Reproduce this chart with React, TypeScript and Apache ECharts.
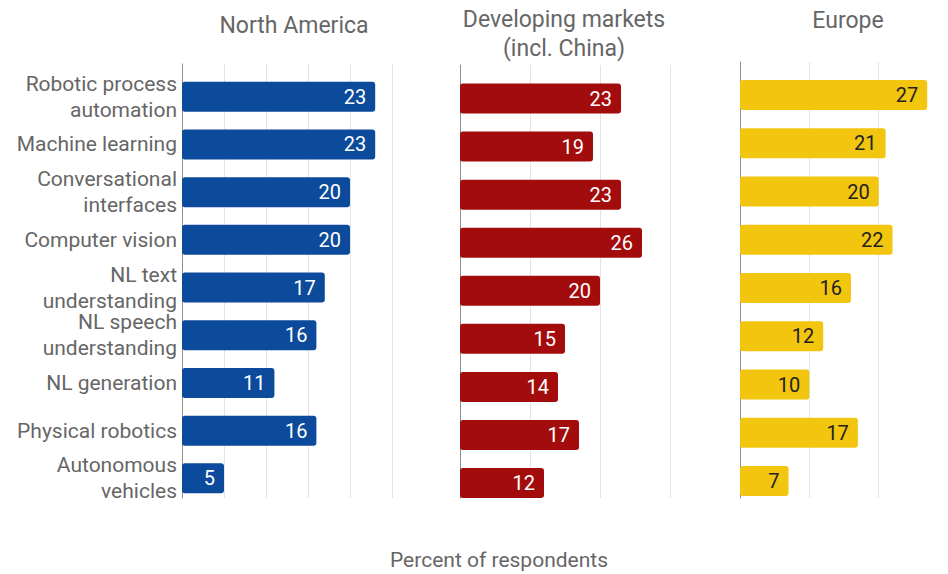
import React, { useEffect, useRef } from "react";
import * as echarts from "echarts";

const categories = [
  "Robotic process\nautomation",
  "Machine learning",
  "Conversational\ninterfaces",
  "Computer vision",
  "NL text\nunderstanding",
  "NL speech\nunderstanding",
  "NL generation",
  "Physical robotics",
  "Autonomous\nvehicles",
];
const northAmerica = [23, 23, 20, 20, 17, 16, 11, 16, 5];
const developingMarkets = [23, 19, 23, 26, 20, 15, 14, 17, 12];
const europe = [27, 21, 20, 22, 16, 12, 10, 17, 7];

const panelTitles = ["North America", "Developing markets\n(incl. China)", "Europe"];
const axisTitle = "Percent of respondents";

const FONT = "Roboto, 'Noto Sans', sans-serif";

export default function App() {
  const ref = useRef<HTMLDivElement>(null);

  useEffect(() => {
    if (!ref.current) return;
    const chart = echarts.init(ref.current, undefined, { renderer: "svg" });

    const panels = [
      {
        data: northAmerica,
        color: "#0C4A9B",
        labelColor: "#ffffff",
        max: 25,
        interval: 5,
        lines: { left: 182, top: 64, width: 210, height: 434 },
        bars: { left: 182, top: 72.9, width: 210, height: 429.3 },
        showCats: true,
      },
      {
        data: developingMarkets,
        color: "#A30C0C",
        labelColor: "#ffffff",
        max: 30,
        interval: 10,
        lines: { left: 460, top: 65, width: 210, height: 433 },
        bars: { left: 460, top: 74.5, width: 210, height: 432.6 },
        showCats: false,
      },
      {
        data: europe,
        color: "#F2C50F",
        labelColor: "#222222",
        max: 30,
        interval: 10,
        lines: { left: 740, top: 62, width: 211, height: 436 },
        bars: { left: 740, top: 70.9, width: 211, height: 434.3 },
        showCats: false,
      },
    ];

    const grid: any[] = [];
    const xAxis: any[] = [];
    const yAxis: any[] = [];
    const series: any[] = [];

    panels.forEach((p, i) => {
      const gl = grid.length;
      grid.push({ ...p.lines, containLabel: false });
      grid.push({ ...p.bars, containLabel: false });
      // lines grid
      xAxis.push({
        type: "value",
        gridIndex: gl,
        min: 0,
        max: p.max,
        interval: p.interval,
        axisLine: { show: false },
        axisTick: { show: false },
        axisLabel: { show: false },
        splitLine: { show: true, lineStyle: { color: "#e3e3e3", width: 1 } },
      });
      yAxis.push({
        type: "category",
        gridIndex: gl,
        inverse: true,
        data: categories,
        axisLine: { show: true, lineStyle: { color: "#8f8f8f", width: 1 } },
        axisTick: { show: false },
        axisLabel: { show: false },
        splitLine: { show: false },
      });
      // bars grid
      xAxis.push({
        type: "value",
        gridIndex: gl + 1,
        min: 0,
        max: p.max,
        interval: p.interval,
        axisLine: { show: false },
        axisTick: { show: false },
        axisLabel: { show: false },
        splitLine: { show: false },
      });
      yAxis.push({
        type: "category",
        gridIndex: gl + 1,
        inverse: true,
        data: categories,
        axisLine: { show: false },
        axisTick: { show: false },
        splitLine: { show: false },
        axisLabel: {
          show: p.showCats,
          margin: 5,
          fontFamily: FONT,
          fontSize: 21,
          lineHeight: 26,
          color: "#666666",
          align: "right",
        },
      });
      series.push({
        type: "bar",
        name: panelTitles[i],
        xAxisIndex: gl + 1,
        yAxisIndex: gl + 1,
        data: p.data,
        barWidth: 30,
        itemStyle: { color: p.color, borderRadius: 3 },
        label: {
          show: true,
          position: "insideRight",
          distance: 9,
          color: p.labelColor,
          fontFamily: FONT,
          fontSize: 20,
        },
      });
    });

    chart.setOption({
      animation: false,
      backgroundColor: "#ffffff",
      grid,
      xAxis,
      yAxis,
      series,
      graphic: [
        {
          type: "text",
          x: 294,
          y: 25,
          style: {
            text: panelTitles[0],
            fill: "#666666",
            font: `23px ${FONT}`,
            textAlign: "center",
            textVerticalAlign: "middle",
          },
        },
        {
          type: "text",
          x: 564,
          y: 34,
          style: {
            text: panelTitles[1],
            fill: "#666666",
            font: `23px ${FONT}`,
            lineHeight: 29,
            textAlign: "center",
            textVerticalAlign: "middle",
          },
        },
        {
          type: "text",
          x: 848,
          y: 20,
          style: {
            text: panelTitles[2],
            fill: "#666666",
            font: `23px ${FONT}`,
            textAlign: "center",
            textVerticalAlign: "middle",
          },
        },
        {
          type: "text",
          x: 499,
          y: 560,
          style: {
            text: axisTitle,
            fill: "#666666",
            font: `21px ${FONT}`,
            textAlign: "center",
            textVerticalAlign: "middle",
          },
        },
      ],
    });

    return () => chart.dispose();
  }, []);

  return (
    <div
      ref={ref}
      style={{ position: "fixed", left: 0, top: 0, width: 948, height: 574, background: "#fff" }}
    />
  );
}
